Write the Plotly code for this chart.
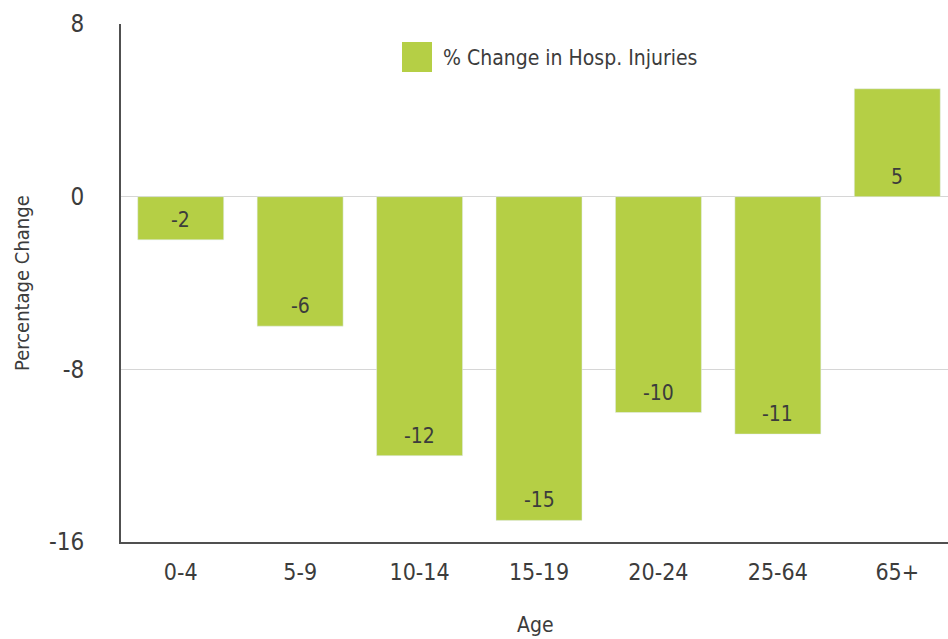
import plotly.graph_objects as go

categories = ["0-4", "5-9", "10-14", "15-19", "20-24", "25-64", "65+"]
values = [-2, -6, -12, -15, -10, -11, 5]
series_name = "% Change in Hosp. Injuries"
y_ticks = [-16, -8, 0, 8]
y_tick_text = ["-16", "-8", "0", "8"]
x_title = "Age"
y_title = "Percentage Change"

FONT = "DejaVu Sans Condensed, Liberation Sans Narrow, sans-serif"
TEXT = "#3c3c3c"
BAR = "#b5cf45"

W, H = 957, 639
L, R, T, B = 121, 0, 24, 97
PW, PH = W - L - R, H - T - B

fig = go.Figure()
fig.add_trace(go.Bar(x=categories, y=values, marker_color=BAR, name=series_name,
                     showlegend=False, hoverinfo="x+y"))

# value labels near the far end of negative bars / near the base of positive bars
for c, v in zip(categories, values):
    fig.add_annotation(x=c, y=min(v, 0), text=str(v), showarrow=False,
                       yshift=20, font=dict(family=FONT, size=21, color=TEXT))

# manual legend
fig.add_shape(type="rect", xref="paper", yref="paper",
              x0=(402 - L) / PW, x1=(432 - L) / PW,
              y0=(H - B - 72) / PH, y1=(H - B - 42) / PH,
              fillcolor=BAR, line_width=0)
fig.add_annotation(xref="paper", yref="paper", x=(441 - L) / PW, y=(H - B - 58) / PH,
                   xanchor="left", yanchor="middle", text=series_name, showarrow=False,
                   font=dict(family=FONT, size=21, color=TEXT))

# axis titles
fig.add_annotation(xref="paper", yref="paper", x=(535 - L) / PW, y=(H - B - 625) / PH,
                   xanchor="center", yanchor="middle", text=x_title, showarrow=False,
                   font=dict(family=FONT, size=21, color=TEXT))
fig.add_annotation(xref="paper", yref="paper", x=(22 - L) / PW, y=0.5,
                   xanchor="center", yanchor="middle", text=y_title, showarrow=False,
                   textangle=-90, font=dict(family=FONT, size=20, color=TEXT))

fig.update_layout(
    width=W, height=H,
    margin=dict(l=L, r=R, t=T, b=B),
    paper_bgcolor="white", plot_bgcolor="white",
    bargap=0.28,
    font=dict(family=FONT, size=23, color=TEXT),
)
fig.update_xaxes(showline=True, linecolor="#505050", linewidth=2, ticks="",
                 tickfont=dict(size=23), ticklabelstandoff=8, automargin=False)
fig.update_yaxes(range=[-16, 8], tickvals=y_ticks, ticktext=y_tick_text,
                 showgrid=True, gridcolor="#d6d6d6",
                 zeroline=True, zerolinecolor="#d6d6d6", zerolinewidth=1,
                 showline=True, linecolor="#505050", linewidth=2, ticks="",
                 tickfont=dict(size=24), ticklabelstandoff=30, automargin=False)

fig.write_html("out.html", config={"displayModeBar": False},
               post_script="document.body.style.margin='0';document.body.style.overflow='hidden';")
